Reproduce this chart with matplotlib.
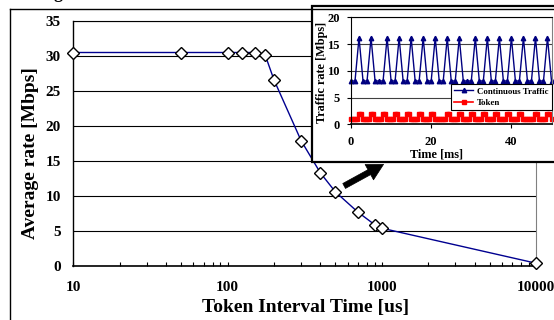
import numpy as np
import matplotlib
matplotlib.use("Agg")
import matplotlib.pyplot as plt
from matplotlib.patches import Rectangle, FancyArrowPatch
from matplotlib.lines import Line2D
from matplotlib.ticker import FixedLocator, NullFormatter

plt.rcParams['font.family'] = ['Liberation Serif', 'DejaVu Serif']
plt.rcParams['font.weight'] = 'bold'

# main chart data
interval_us = [10, 50, 100, 125, 150, 175, 200, 300, 400, 500, 700, 900, 1000, 10000]
avg_rate = [30.5, 30.5, 30.5, 30.5, 30.5, 30.2, 26.6, 17.9, 13.3, 10.6, 7.7, 5.9, 5.4, 0.4]
main_yticks = [0, 5, 10, 15, 20, 25, 30, 35]
main_xticks = [10, 100, 1000, 10000]

# inset data (1 ms samples)
time_ms = list(range(51))
traffic = [8.1, 8.1, 16.2, 8.1, 8.1, 16.2, 8.1, 8.1, 8.1, 16.2,
           8.1, 8.1, 16.2, 8.1, 8.1, 16.2, 8.1, 8.1, 16.2, 8.1,
           8.1, 16.2, 8.1, 8.1, 16.2, 8.1, 8.1, 16.2, 8.1, 8.1,
           8.1, 16.2, 8.1, 8.1, 16.2, 8.1, 8.1, 16.2, 8.1, 8.1,
           16.2, 8.1, 8.1, 16.2, 8.1, 8.1, 16.2, 8.1, 8.1, 16.2, 8.1]
token_pulse_ms = [2, 5, 8, 11, 14, 17, 20, 24, 27, 30, 33, 36, 39, 42, 46, 49]
token_low, token_high = 1.0, 1.95

# token trace sampled every 0.5 ms
token_t = np.arange(0, 50.5, 0.5)
token_v = np.full_like(token_t, token_low)
for p in token_pulse_ms:
    token_v[(token_t >= p) & (token_t <= p + 0.5)] = token_high

fig = plt.figure(figsize=(5.54, 3.2), dpi=100)

# outer frame (cropped figure)
fig.add_artist(Line2D([10/554, 10/554], [0, 1 - 9/320], transform=fig.transFigure, color='black', lw=1.0))
fig.add_artist(Line2D([10/554, 1], [1 - 9/320, 1 - 9/320], transform=fig.transFigure, color='black', lw=1.0))
fig.text(58/554, 1 + 1.5/320, 'g', fontsize=13, fontweight='bold', ha='center', va='baseline')

# main axes
ax = fig.add_axes([73.3/554, 54/320, 462.7/554, 245/320], zorder=0)
ax.plot(interval_us, avg_rate, color='#000090', lw=1.0, marker='D', ms=6.5,
        mfc='white', mec='black', mew=1.0, clip_on=False, zorder=3)
ax.set_xscale('log')
ax.set_xlim(10, 10000)
ax.set_ylim(0, 35)
ax.set_yticks(main_yticks)
ax.xaxis.set_major_locator(FixedLocator(main_xticks))
ax.xaxis.set_minor_locator(FixedLocator([m * d for d in [10, 100, 1000] for m in range(2, 10)]))
ax.xaxis.set_minor_formatter(NullFormatter())
ax.set_xticklabels([str(v) for v in main_xticks])
ax.tick_params(axis='x', which='both', direction='in', length=3, width=0.8, labelsize=11, pad=11)
ax.tick_params(axis='y', length=0, labelsize=11, pad=9)
ax.grid(axis='y', color='black', lw=0.8)
for s in ['left', 'bottom', 'top']:
    ax.spines[s].set_color('black')
ax.spines['bottom'].set_linewidth(1.2)
ax.spines['left'].set_linewidth(1.0)
ax.spines['top'].set_linewidth(0.8)
ax.spines['right'].set_color('#808080')
ax.spines['right'].set_linewidth(0.8)
ax.set_xlabel('Token Interval Time [us]', fontsize=14, fontweight='bold')
ax.xaxis.set_label_coords(0.503, -0.135)
ax.set_ylabel('Average rate [Mbps]', fontsize=14, fontweight='bold')
ax.yaxis.set_label_coords(-0.075, 0.46)

# inset frame
fig.add_artist(Rectangle((312/554, 158/320), 0.6, 156/320, transform=fig.transFigure,
                         facecolor='white', edgecolor='black', lw=1.6, zorder=1))

# inset axes
ins = fig.add_axes([351/554, 195.7/320, 200.5/554, 107/320], zorder=2)
ins.plot(time_ms, traffic, color='#000080', lw=1.0, marker='^', ms=3.2,
         mfc='#000080', mec='#000080', label='Continuous Traffic', clip_on=False)
ins.plot(token_t, token_v, color='#ff0000', lw=1.2, marker='s', ms=2.6,
         mfc='#ff0000', mec='#ff0000', label='Token', clip_on=False)
ins.set_xlim(0, 50)
ins.set_ylim(0, 20)
ins.set_yticks([0, 5, 10, 15, 20])
ins.set_xticks([0, 20, 40])
ins.tick_params(axis='both', direction='out', length=3, width=0.8, labelsize=9)
ins.tick_params(axis='x', pad=5.5)
ins.tick_params(axis='y', pad=5)
ins.grid(axis='y', color='#404040', lw=0.8)
ins.spines['right'].set_color('#808080')
ins.spines['right'].set_linewidth(0.8)
ins.spines['bottom'].set_linewidth(1.2)
ins.spines['top'].set_linewidth(0.8)
ins.set_xlabel('Time [ms]', fontsize=8.8, fontweight='bold')
ins.xaxis.set_label_coords(0.424, -0.225)
ins.set_ylabel('Traffic rate [Mbps]', fontsize=8.8, fontweight='bold')
ins.yaxis.set_label_coords(-0.115, 0.484)
leg = ins.legend(loc='lower right', bbox_to_anchor=(1.0, 0.134), borderaxespad=0,
                 fancybox=False, framealpha=1, edgecolor='black',
                 handlelength=2.2, borderpad=0.35, labelspacing=0.35, handletextpad=0.4,
                 prop={'weight': 'bold', 'size': 6.4})
leg.get_frame().set_linewidth(0.8)

# arrow pointing at the inset
fig.add_artist(FancyArrowPatch((341.7/554, 1 - 187.3/320), (386/554, 1 - 163/320),
                               transform=fig.transFigure,
                               arrowstyle='simple,head_length=1.3,head_width=1.4,tail_width=0.45',
                               mutation_scale=9, facecolor='black', edgecolor='black', lw=0.5, zorder=3))

fig.savefig('out.png', dpi=100)
